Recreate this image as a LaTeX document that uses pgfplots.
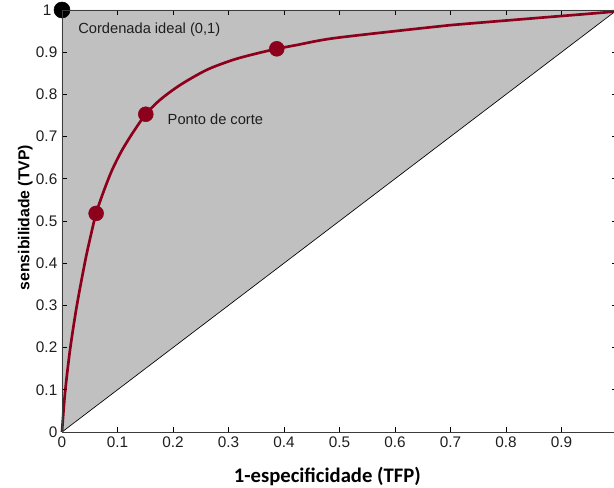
\documentclass[border=0pt]{standalone}
\usepackage{pgfplots}
\pgfplotsset{compat=1.18}
\usepackage{fontspec}
\setmainfont{Liberation Sans}
\newfontfamily\calibri{Carlito}
\definecolor{roc}{RGB}{140,0,28}
\definecolor{fillgray}{RGB}{192,192,192}
\definecolor{axgray}{RGB}{60,60,60}
\definecolor{txt}{RGB}{30,30,30}
\begin{document}
\begin{tikzpicture}
\begin{axis}[name=ax,
  scale only axis, width=416.25pt, height=316.5pt,
  xmin=0, xmax=1, ymin=0, ymax=1,
  clip=false,
  set layers=axis on top,
  axis line style={axgray, line width=0.7pt},
  tick style={black, line width=0.5pt},
  tick align=inside, major tick length=4pt,
  xtick={0,0.1,0.2,0.3,0.4,0.5,0.6,0.7,0.8,0.9},
  xticklabels={0,0.1,0.2,0.3,0.4,0.5,0.6,0.7,0.8,0.9},
  ytick={0,0.1,0.2,0.3,0.4,0.5,0.6,0.7,0.8,0.9,1},
  yticklabels={0,0.1,0.2,0.3,0.4,0.5,0.6,0.7,0.8,0.9,1\kern4.5pt},
  tick label style={font=\fontsize{11.5}{13}\selectfont, text=txt},
  xlabel={\calibri\bfseries 1-especificidade (TFP)},
  xlabel style={at={(axis description cs:0.478,-0.1043)}, anchor=center, font=\fontsize{15.5}{18}\selectfont},
  ylabel={\bfseries sensibilidade (TVP)},
  ylabel style={at={(axis description cs:-0.066,0.508)}, anchor=center, rotate=0, font=\fontsize{11.8}{14}\selectfont},
]
\addplot[fill=fillgray, draw=none] coordinates {(0,0) (0,1) (1,1)} -- cycle;
\addplot[black, line width=0.5pt] coordinates {(0,0) (1,1)};
\addplot[roc, line width=2pt, smooth, tension=0.5] coordinates {
(0,0) (0.0054,0.092) (0.0144,0.194) (0.0264,0.297) (0.041,0.400) (0.050,0.455)
(0.0615,0.518) (0.075,0.570) (0.090,0.620) (0.107,0.665) (0.128,0.710)
(0.151,0.753) (0.1766,0.787) (0.2126,0.822) (0.2607,0.858) (0.3087,0.882) (0.351,0.897) (0.387,0.908)
(0.423,0.917) (0.489,0.933) (0.642,0.956) (0.699,0.964) (0.846,0.980) (0.993,0.996) (1,1)};
\addplot[only marks, mark=*, mark size=5.6pt, roc] coordinates {(0.0615,0.518) (0.151,0.753) (0.387,0.908)};
\addplot[on layer=axis foreground, only marks, mark=*, mark size=6pt, black] coordinates {(0,1)};
\node[anchor=west, font=\fontsize{11}{13}\selectfont, text=txt] at (axis cs:0.021,0.953) {Cordenada ideal (0,1)};
\node[anchor=west, font=\fontsize{11}{13}\selectfont, text=txt] at (axis cs:0.182,0.742) {Ponto de corte};
\end{axis}
\pgfresetboundingbox
\path[use as bounding box] ([xshift=-46.5pt,yshift=-42pt]ax.south west) rectangle ([xshift=-2.25pt,yshift=7.5pt]ax.north east);
\end{tikzpicture}
\end{document}
